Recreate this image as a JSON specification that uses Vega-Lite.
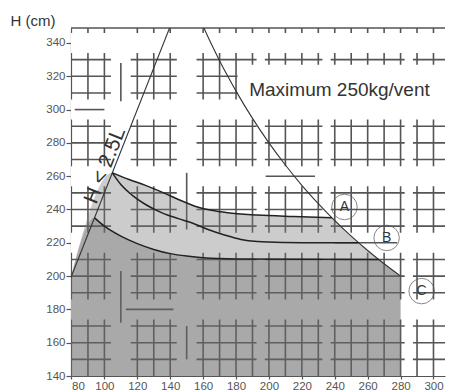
{
  "$schema": "https://vega.github.io/schema/vega-lite/v6.json",
  "width": 374,
  "height": 348,
  "autosize": "none",
  "padding": {"left": 71, "top": 28, "right": 7, "bottom": 16},
  "background": "white",
  "config": {
    "view": {"stroke": null},
    "font": "Liberation Sans",
    "axis": {"grid": false, "zindex": 1, "tickCount": 30, "labelOverlap": false, "labelFont": "Liberation Sans", "labelFontSize": 11.5, "labelColor": "#555", "tickColor": "#555", "domainColor": "#555", "tickSize": 5, "domainWidth": 1.2, "tickWidth": 1.2},
    "axisX": {"tickSize": 3, "labelPadding": 1},
    "axisY": {"labelPadding": 1}
  },
  "datasets": {
    "vgrid": [{"x": 90}, {"x": 100}, {"x": 120}, {"x": 130}, {"x": 140}, {"x": 160}, {"x": 170}, {"x": 180}, {"x": 190}, {"x": 200}, {"x": 210}, {"x": 220}, {"x": 230}, {"x": 240}, {"x": 250}, {"x": 260}, {"x": 270}, {"x": 280}, {"x": 290}, {"x": 300}],
    "hgrid": [{"y": 150}, {"y": 160}, {"y": 170}, {"y": 190}, {"y": 200}, {"y": 210}, {"y": 230}, {"y": 240}, {"y": 250}, {"y": 270}, {"y": 280}, {"y": 290}, {"y": 310}, {"y": 320}, {"y": 330}],
    "vstreet": [{"x": 104, "x2": 116}, {"x": 144, "x2": 156}, {"x": 192.5, "x2": 197.5}, {"x": 232.5, "x2": 237.5}, {"x": 282.5, "x2": 287.5}],
    "hstreet": [{"y": 174, "y2": 186}, {"y": 214, "y2": 226}, {"y": 254, "y2": 266}, {"y": 294, "y2": 306}, {"y": 334, "y2": 346}],
    "partial": [
      {"x": 110, "x2": 110, "y": 172, "y2": 203},
      {"x": 110, "x2": 110, "y": 305, "y2": 328},
      {"x": 113, "x2": 142, "y": 180, "y2": 180},
      {"x": 150, "x2": 150, "y": 228, "y2": 262},
      {"x": 198, "x2": 228, "y": 260, "y2": 260},
      {"x": 240, "x2": 278, "y": 220, "y2": 220},
      {"x": 82, "x2": 100, "y": 300, "y2": 300},
      {"x": 150, "x2": 150, "y": 150, "y2": 170}
    ],
    "border": [{"y": 349}],
    "textbg": [{"x": 181, "x2": 307, "y": 302, "y2": 327}],
    "light": [
      {"x": 79.7, "y": 199.25}, {"x": 104.8, "y": 262}, {"x": 115, "y": 258}, {"x": 125, "y": 254.5}, {"x": 136, "y": 250}, {"x": 145, "y": 246}, {"x": 155, "y": 242}, {"x": 165, "y": 239.5}, {"x": 175, "y": 238}, {"x": 193, "y": 236.7}, {"x": 215, "y": 235.8}, {"x": 238.3, "y": 235}, {"x": 245, "y": 228.6}, {"x": 250, "y": 224}, {"x": 260, "y": 215.4}, {"x": 270, "y": 207.4}, {"x": 280, "y": 200}
    ],
    "dark": [
      {"x": 79.7, "y": 199.25}, {"x": 94, "y": 235}, {"x": 100, "y": 230}, {"x": 110, "y": 224}, {"x": 120, "y": 219.5}, {"x": 130, "y": 216}, {"x": 140, "y": 213.5}, {"x": 150, "y": 212}, {"x": 160, "y": 211}, {"x": 180, "y": 210.3}, {"x": 266.7, "y": 210}, {"x": 270, "y": 207.4}, {"x": 275, "y": 203.6}, {"x": 280, "y": 200}
    ],
    "thin": [
      {"c": "diag", "x": 79.7, "y": 199.25}, {"c": "diag", "x": 140, "y": 350},
      {"c": "hyp", "x": 158, "y": 354.4}, {"c": "hyp", "x": 165, "y": 339.4}, {"c": "hyp", "x": 170, "y": 329.4}, {"c": "hyp", "x": 175, "y": 320}, {"c": "hyp", "x": 180, "y": 311.1}, {"c": "hyp", "x": 190, "y": 294.7}, {"c": "hyp", "x": 200, "y": 280}, {"c": "hyp", "x": 210, "y": 266.7}, {"c": "hyp", "x": 220, "y": 254.5}, {"c": "hyp", "x": 230, "y": 243.5}, {"c": "hyp", "x": 240, "y": 233.3}, {"c": "hyp", "x": 250, "y": 224}, {"c": "hyp", "x": 260, "y": 215.4}, {"c": "hyp", "x": 270, "y": 207.4}, {"c": "hyp", "x": 280, "y": 200}
    ],
    "curves": [
      {"c": "A", "x": 104.8, "y": 262}, {"c": "A", "x": 115, "y": 258}, {"c": "A", "x": 125, "y": 254.5}, {"c": "A", "x": 136, "y": 250}, {"c": "A", "x": 145, "y": 246}, {"c": "A", "x": 155, "y": 242}, {"c": "A", "x": 165, "y": 239.5}, {"c": "A", "x": 175, "y": 238}, {"c": "A", "x": 193, "y": 236.7}, {"c": "A", "x": 215, "y": 235.8}, {"c": "A", "x": 238.3, "y": 235},
      {"c": "B", "x": 104.8, "y": 262}, {"c": "B", "x": 110, "y": 255}, {"c": "B", "x": 117, "y": 248.5}, {"c": "B", "x": 125, "y": 243}, {"c": "B", "x": 135, "y": 238}, {"c": "B", "x": 145, "y": 234.5}, {"c": "B", "x": 153, "y": 232}, {"c": "B", "x": 163, "y": 228}, {"c": "B", "x": 173, "y": 224.7}, {"c": "B", "x": 183, "y": 222}, {"c": "B", "x": 193, "y": 220.8}, {"c": "B", "x": 210, "y": 220.2}, {"c": "B", "x": 230, "y": 220}, {"c": "B", "x": 254.5, "y": 220},
      {"c": "C", "x": 94, "y": 235}, {"c": "C", "x": 100, "y": 230}, {"c": "C", "x": 110, "y": 224}, {"c": "C", "x": 120, "y": 219.5}, {"c": "C", "x": 130, "y": 216}, {"c": "C", "x": 140, "y": 213.5}, {"c": "C", "x": 150, "y": 212}, {"c": "C", "x": 160, "y": 211}, {"c": "C", "x": 180, "y": 210.3}, {"c": "C", "x": 266.7, "y": 210}
    ],
    "circles": [{"x": 245.9, "y": 241.5, "t": "A"}, {"x": 271.5, "y": 222.9, "t": "B"}, {"x": 292.8, "y": 191, "t": "C"}],
    "maxlabel": [{"x": 188, "y": 312, "t": "Maximum 250kg/vent"}],
    "diaglabel": [{"x": 104.0, "y": 265.0, "t": "H < 2.5L"}]
  },
  "layer": [
    {
      "data": {"name": "textbg"},
      "mark": {"type": "rect", "color": "white"},
      "encoding": {
        "x": {"field": "x", "type": "quantitative", "scale": {"domain": [79.7, 307], "nice": false, "zero": false}, "axis": {"values": [80, 100, 120, 140, 160, 180, 200, 220, 240, 260, 280, 300], "tickCount": 30, "title": null, "labelOverlap": false}},
        "x2": {"field": "x2"},
        "y": {"field": "y", "type": "quantitative", "scale": {"domain": [140, 349], "nice": false, "zero": false}, "axis": {"values": [140, 160, 180, 200, 220, 240, 260, 280, 300, 320, 340], "tickCount": 30, "labelOverlap": false, "title": "H (cm)", "titleAngle": 0, "titleAlign": "left", "titleBaseline": "middle", "titleX": -61, "titleY": -8, "titleFontSize": 15, "titleFontWeight": "normal", "titleColor": "#333", "titleFont": "Liberation Sans"}},
        "y2": {"field": "y2"}
      }
    },
    {
      "data": {"name": "vgrid"},
      "mark": {"type": "rule", "color": "#555", "strokeWidth": 1.6},
      "encoding": {"x": {"field": "x", "type": "quantitative"}}
    },
    {
      "data": {"name": "hgrid"},
      "mark": {"type": "rule", "color": "#555", "strokeWidth": 1.6},
      "encoding": {"y": {"field": "y", "type": "quantitative"}}
    },
    {
      "data": {"name": "vstreet"},
      "mark": {"type": "rect", "color": "white"},
      "encoding": {"x": {"field": "x", "type": "quantitative"}, "x2": {"field": "x2"}}
    },
    {
      "data": {"name": "hstreet"},
      "mark": {"type": "rect", "color": "white"},
      "encoding": {"y": {"field": "y", "type": "quantitative"}, "y2": {"field": "y2"}}
    },
    {
      "data": {"name": "partial"},
      "mark": {"type": "rule", "color": "#555", "strokeWidth": 1.6},
      "encoding": {"x": {"field": "x", "type": "quantitative"}, "x2": {"field": "x2"}, "y": {"field": "y", "type": "quantitative"}, "y2": {"field": "y2"}}
    },
    {
      "data": {"name": "border"},
      "mark": {"type": "rule", "color": "#555", "strokeWidth": 1.6},
      "encoding": {"y": {"field": "y", "type": "quantitative"}}
    },
    {
      "data": {"name": "textbg"},
      "mark": {"type": "rect", "color": "white"},
      "encoding": {"x": {"field": "x", "type": "quantitative"}, "x2": {"field": "x2"}, "y": {"field": "y", "type": "quantitative"}, "y2": {"field": "y2"}}
    },
    {
      "data": {"name": "light"},
      "mark": {"type": "area", "color": "#7a7a7a", "opacity": 0.38, "interpolate": "monotone"},
      "encoding": {"x": {"field": "x", "type": "quantitative"}, "y": {"field": "y", "type": "quantitative"}, "y2": {"datum": 140}}
    },
    {
      "data": {"name": "dark"},
      "mark": {"type": "area", "color": "#5a5a5a", "opacity": 0.3, "interpolate": "monotone"},
      "encoding": {"x": {"field": "x", "type": "quantitative"}, "y": {"field": "y", "type": "quantitative"}, "y2": {"datum": 140}}
    },
    {
      "data": {"name": "thin"},
      "mark": {"type": "line", "color": "#333", "strokeWidth": 1.1, "interpolate": "monotone", "clip": true},
      "encoding": {"x": {"field": "x", "type": "quantitative"}, "y": {"field": "y", "type": "quantitative"}, "detail": {"field": "c"}}
    },
    {
      "data": {"name": "curves"},
      "mark": {"type": "line", "color": "#222", "strokeWidth": 1.5, "interpolate": "monotone"},
      "encoding": {"x": {"field": "x", "type": "quantitative"}, "y": {"field": "y", "type": "quantitative"}, "detail": {"field": "c"}}
    },
    {
      "data": {"name": "circles"},
      "mark": {"type": "point", "shape": "circle", "size": 650, "filled": false, "color": "#555", "strokeWidth": 1},
      "encoding": {"x": {"field": "x", "type": "quantitative"}, "y": {"field": "y", "type": "quantitative"}}
    },
    {
      "data": {"name": "circles"},
      "mark": {"type": "text", "fontSize": 14, "color": "#333", "baseline": "middle", "align": "center"},
      "encoding": {"x": {"field": "x", "type": "quantitative"}, "y": {"field": "y", "type": "quantitative"}, "text": {"field": "t"}}
    },
    {
      "data": {"name": "maxlabel"},
      "mark": {"type": "text", "fontSize": 19, "color": "#333", "baseline": "middle", "align": "left"},
      "encoding": {"x": {"field": "x", "type": "quantitative"}, "y": {"field": "y", "type": "quantitative"}, "text": {"field": "t"}}
    },
    {
      "data": {"name": "diaglabel"},
      "mark": {"type": "text", "fontSize": 21, "color": "#333", "baseline": "alphabetic", "align": "center", "angle": -68.5},
      "encoding": {"x": {"field": "x", "type": "quantitative"}, "y": {"field": "y", "type": "quantitative"}, "text": {"field": "t"}}
    }
  ]
}
